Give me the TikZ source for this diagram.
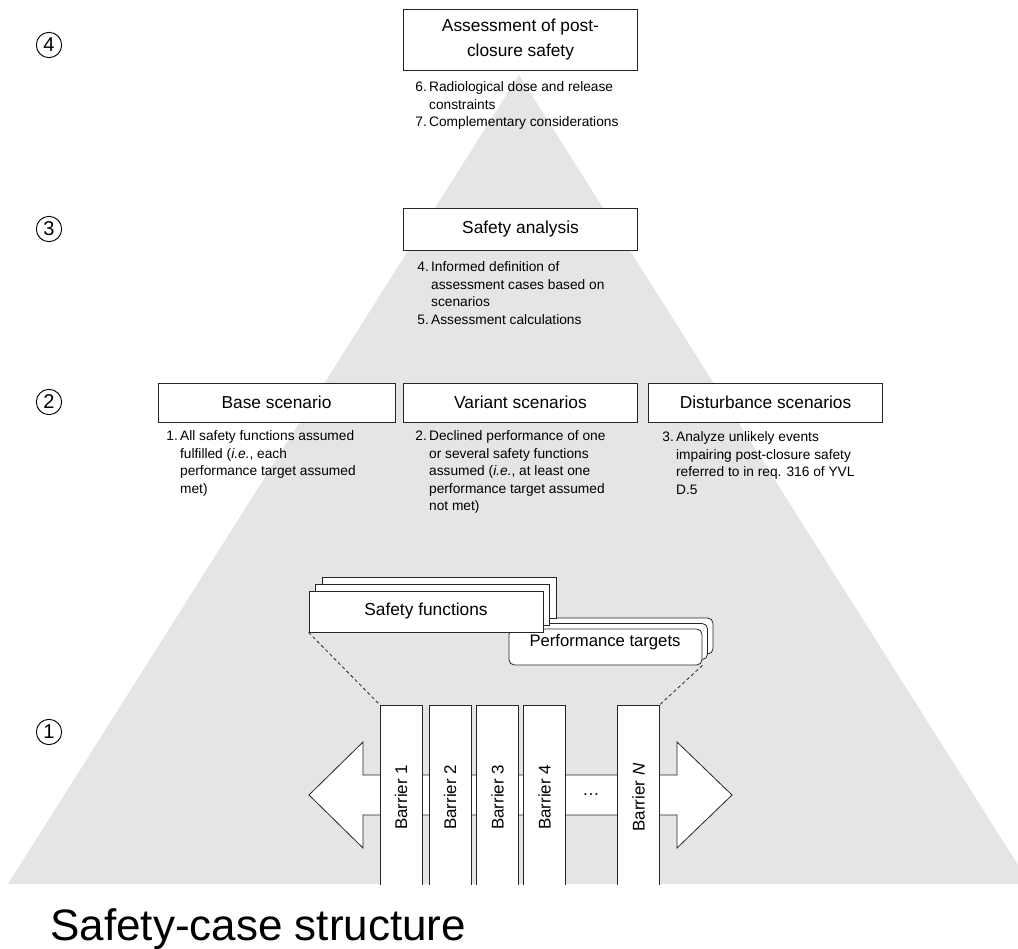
\documentclass[tikz,border=0pt]{standalone}
\usepackage{fontspec}
\setmainfont{Liberation Sans}
\usetikzlibrary{positioning}

\begin{document}
\begin{tikzpicture}[x=0.75pt,y=-0.75pt,line width=0.6pt,
	pyramid/.style={fill=black!10},
	box/.style={rectangle,draw=black!85,fill=white,inner sep=0pt,
		minimum width=176pt,font=\fontsize{13}{18.75}\selectfont,align=center},
	note/.style={anchor=north west,inner sep=0pt,font=\fontsize{10.3}{13.1}\selectfont},
	barrier/.style={rectangle,draw=black!85,fill=white,rotate=90,inner sep=0pt,
		minimum width=138.75pt,minimum height=31.5pt,font=\fontsize{12.7}{15}\selectfont},
	sfbox/.style={rectangle,draw=black!85,fill=white,inner sep=0pt,
		minimum width=175.5pt,minimum height=30.75pt,font=\fontsize{13}{15}\selectfont},
	ptbox/.style={rectangle,rounded corners=4pt,draw=black!85,fill=white,inner sep=0pt,
		minimum width=144.75pt,minimum height=27pt},
	guide/.style={draw=black!85,dash pattern=on 2.5pt off 2pt},
	level/.style={circle,draw=black,line width=0.7pt,inner sep=0pt,minimum size=19pt,
		font=\fontsize{15}{15}\selectfont},
	]
	
	\useasboundingbox (0,0) rectangle (1018,949);
	
	% grey pyramid, cut at the image edge
	\begin{scope}
	\clip (0,0) rectangle (1018,884);
	\fill[pyramid] (8,884) -- (519,75) -- (1030,884) -- cycle;
	\end{scope}
	
	\node[level] (l4) at (49,45)  {4};
	\node[level] (l3) at (49,229) {3};
	\node[level] (l2) at (49,402) {2};
	\node[level] (l1) at (49,732) {1};
	
	\node[box, minimum height=45.75pt] (assess) at (520.5,39.5) {Assessment of post-\\closure safety};
	\node[note] (assessnote) at (415,79) {\begin{tabular}{@{}l@{\,}l@{}}
			6. & Radiological dose and release\\
			& constraints\\
			7. & Complementary considerations
		\end{tabular}};
	
	\node[box, minimum height=31.5pt] (analysis) at (520.5,229) {Safety analysis};
	\node[note] (analysisnote) at (417,259) {\begin{tabular}{@{}l@{\,}l@{}}
			4. & Informed definition of\\
			& assessment cases based on\\
			& scenarios\\
			5. & Assessment calculations
		\end{tabular}};
	
	\node[box, minimum height=29.25pt, minimum width=177.75pt] (base) at (276.5,402.5) {Base scenario};
	\node[box, minimum height=29.25pt] (variant) at (520.5,402.5) {Variant scenarios};
	\node[box, minimum height=29.25pt] (disturb) at (765.5,402.5) {Disturbance scenarios};
	
	\node[note] (basenote) at (166,428) {\begin{tabular}{@{}l@{\,}l@{}}
			1. & All safety functions assumed\\
			& fulfilled (\textit{i.e.}, each\\
			& performance target assumed\\
			& met)
		\end{tabular}};
	\node[note] (variantnote) at (415,428) {\begin{tabular}{@{}l@{\,}l@{}}
			2. & Declined performance of one\\
			& or several safety functions\\
			& assumed (\textit{i.e.}, at least one\\
			& performance target assumed\\
			& not met)
		\end{tabular}};
	\node[note] (disturbnote) at (662,429) {\begin{tabular}{@{}l@{\,}l@{}}
			3. & Analyze unlikely events\\
			& impairing post-closure safety\\
			& referred to in req. 316 of YVL\\
			& D.5
		\end{tabular}};
	
	% barriers stand on the open bottom edge
	\begin{scope}
	\clip (0,0) rectangle (1018,884);
	\draw[draw=black!85,fill=white] (309,795) -- (363,742) -- (363,775) -- (677,775) -- (677,742)
	-- (732,795) -- (677,848) -- (677,815) -- (363,815) -- (363,848) -- cycle;
	\node[barrier] (b1) at (401,797.5)   {Barrier 1};
	\node[barrier] (b2) at (450,797.5)   {Barrier 2};
	\node[barrier] (b3) at (497.5,797.5) {Barrier 3};
	\node[barrier] (b4) at (544.5,797.5) {Barrier 4};
	\node[barrier] (bn) at (638.5,797.5) {Barrier \textit{N}};
	\end{scope}
	\node[inner sep=0pt,font=\fontsize{13}{15}\selectfont] (more) at (591,795) {\dots};
	
	\node[ptbox] (pt3) at (616.5,636) {};
	\node[ptbox] (pt2) at (611,641.5) {};
	\node[ptbox] (pt)  at (605.5,647) {};
	\node[inner sep=0pt,font=\fontsize{12.5}{15}\selectfont] (pttext) at (605,642) {Performance targets};
	
	\node[sfbox] (sf3) at (439,597.5)   {};
	\node[sfbox] (sf2) at (432.5,604.5) {};
	\node[sfbox] (sf)  at (426,611.5)   {Safety functions};
	
	% rotated barriers: north east is the top-left corner, south east the top-right
	\draw[guide] (sf.south west) -- (b1.north east);
	\draw[guide] (pt.south east) -- (bn.south east);
	
	\node[anchor=base west,inner sep=0pt,font=\fontsize{33}{36}\selectfont] (caption) at (50,940) {Safety-case structure};
\end{tikzpicture}
\end{document}
